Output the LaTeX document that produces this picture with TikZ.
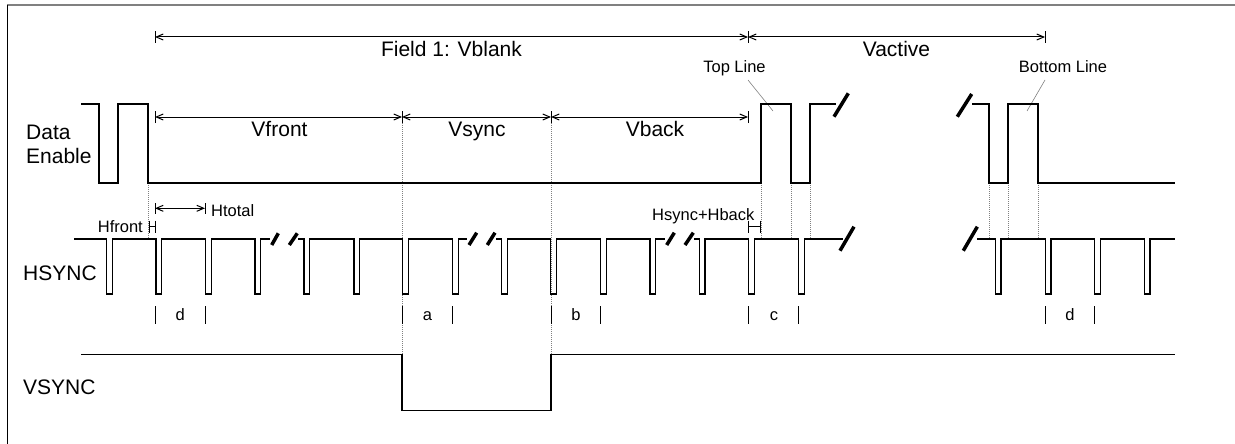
\documentclass[tikz,border=0pt]{standalone}
\usepackage{fontspec}
\setmainfont{Liberation Sans}
\usetikzlibrary{arrows.meta}
\begin{document}
\begin{tikzpicture}[x=1pt,y=-1pt,
  wave/.style={line width=1.4pt, line join=miter},
  brk/.style={line width=3.5pt},
  guide/.style={gray, line width=0.8pt, dash pattern=on 1pt off 1pt},
  dim/.style={line width=1pt, {Straight Barb[length=7pt,width=6pt]}-{Straight Barb[length=7pt,width=6pt]}},
  tickline/.style={line width=1pt},
  big/.style={font=\fontsize{21}{25}\selectfont, inner sep=0pt, anchor=base},
  small/.style={font=\fontsize{16.5}{20}\selectfont, inner sep=0pt, anchor=base},
  leader/.style={gray, line width=0.6pt}]
\useasboundingbox (0,0) rectangle (1235,444);
% frame
\draw[gray, line width=1.5pt] (7,5) -- (1235,5);
\draw[line width=1pt] (7,5) -- (7,444);

% ---- guides (dotted) ----
\foreach \x in {148,761,791,810,989,1008,1038}
  \draw[guide] (\x,183) -- (\x,239);
\foreach \x in {402,551}
  \draw[guide] (\x,117) -- (\x,354.3);

% ---- top dimension arrows ----
\coordinate (f0) at (155,37);
\coordinate (f1) at (748,37);
\coordinate (f2) at (1045,37);
\draw[dim] (f0) -- (f1);
\draw[dim] (f1) -- (f2);
\foreach \p in {f0,f1,f2}
  \draw[tickline] ([yshift=-6pt]\p) -- ([yshift=6pt]\p);
\node[big] (lfield) at (451.5,57) {Field 1: Vblank};
\node[big] (lvact) at (896.5,57) {Vactive};

\coordinate (v0) at (155,117);
\coordinate (v1) at (402,117);
\coordinate (v2) at (551,117);
\coordinate (v3) at (748,117);
\draw[dim] (v0) -- (v1);
\draw[dim] (v1) -- (v2);
\draw[dim] (v2) -- (v3);
\foreach \p in {v0,v1,v2,v3}
  \draw[tickline] ([yshift=-6pt]\p) -- ([yshift=6pt]\p);
\node[big] (lvfront) at (279.5,136.7) {Vfront};
\node[big] (lvsync) at (477,136.7) {Vsync};
\node[big] (lvback) at (655,136.7) {Vback};

% ---- signal names ----
\node[big, anchor=base west] (lde1) at (26,139.3) {Data};
\node[big, anchor=base west] (lde2) at (26,163.3) {Enable};
\node[big, anchor=base west] (lhs) at (23,280) {HSYNC};
\node[big, anchor=base west] (lvs) at (23,394.3) {VSYNC};

% ---- Top / Bottom line labels ----
\node[small] (ltop) at (734.5,72.7) {Top Line};
\node[small] (lbot) at (1063,72.7) {Bottom Line};
\coordinate (tl) at (773,111);
\coordinate (bl) at (1027,111);
\draw[leader] (748,80) -- (tl);
\draw[leader] (1045,80) -- (bl);

% ---- Data Enable ----
\draw[wave] (81,104) -- (99,104) -- (99,183) -- (118,183) -- (118,104) -- (148,104)
  -- (148,183) -- (761,183) -- (761,104) -- (791,104) -- (791,183) -- (810,183)
  -- (810,104) -- (836,104);
\draw[wave] (972,104) -- (989,104) -- (989,183) -- (1008,183) -- (1008,104)
  -- (1038,104) -- (1038,183) -- (1175,183);
\draw[brk] (834,116.7) -- (848.3,93.3);
\draw[brk] (957.3,116.7) -- (971.7,94);

% ---- HSYNC ----
\draw[wave] (74,239) foreach \p in {106.7,156,205.7,255} {
  -- (\p,239) -- (\p,294) -- (\p+5.5,294) -- (\p+5.5,239) } -- (270,239);
\draw[wave] (298,239) foreach \p in {304,354,402.7,452.7} {
  -- (\p,239) -- (\p,294) -- (\p+5.5,294) -- (\p+5.5,239) } -- (466.7,239);
\draw[wave] (496,239) foreach \p in {501.7,550.7,600.7,650} {
  -- (\p,239) -- (\p,294) -- (\p+5.5,294) -- (\p+5.5,239) } -- (665,239);
\draw[wave] (694,239) foreach \p in {699.3,748.7,798.7} {
  -- (\p,239) -- (\p,294) -- (\p+5.5,294) -- (\p+5.5,239) } -- (843,239);
\draw[wave] (977,239) foreach \p in {995.3,1045.3,1094.7,1144.3} {
  -- (\p,239) -- (\p,294) -- (\p+5.5,294) -- (\p+5.5,239) } -- (1175,239);
\draw[brk] (271.7,245) -- (278.3,233.3);
\draw[brk] (289.3,245) -- (297.3,233.3);
\draw[brk] (469,245) -- (476.7,232.7);
\draw[brk] (487.3,245) -- (495,232.7);
\draw[brk] (666.7,245) -- (674.3,232.7);
\draw[brk] (685,245) -- (693.3,232.7);
\draw[brk] (840,250.7) -- (854,226.7);
\draw[brk] (963.3,250.7) -- (977.3,226.7);

% ---- Htotal ----
\coordinate (h0) at (155,208.3);
\coordinate (h1) at (205,208.3);
\draw[dim] (h0) -- (h1);
\foreach \p in {h0,h1}
  \draw[tickline] ([yshift=-5.5pt]\p) -- ([yshift=5.5pt]\p);
\node[small, anchor=base west] (lhtot) at (211,216) {Htotal};

% ---- Hfront bracket ----
\draw[tickline] (149,220.7) -- (149,232.7) (155,220.7) -- (155,232.7) (149,226.7) -- (155,226.7);
\node[small, anchor=base east] (lhfront) at (143,232.3) {Hfront};

% ---- Hsync+Hback bracket ----
\draw[tickline] (748.7,220.7) -- (748.7,232.7) (760.7,220.7) -- (760.7,232.7) (748.7,226.7) -- (760.7,226.7);
\node[small] (lhsb) at (703.3,220) {Hsync+Hback};

% ---- a b c d markers ----
\foreach \x in {155,205,402.7,452.7,551.3,600.7,748.7,798.7,1045.3,1094.7}
  \draw[tickline] (\x,306) -- (\x,324.3);
\node[small] (ld1) at (180.3,320) {d};
\node[small] (la) at (427.5,320) {a};
\node[small] (lb) at (576,320) {b};
\node[small] (lc) at (774,320) {c};
\node[small] (ld2) at (1070,320) {d};

% ---- VSYNC ----
\draw[wave] (81,354.3) -- (402,354.3) -- (402,410.3) -- (551,410.3) -- (551,354.3) -- (1175,354.3);
\end{tikzpicture}
\end{document}
